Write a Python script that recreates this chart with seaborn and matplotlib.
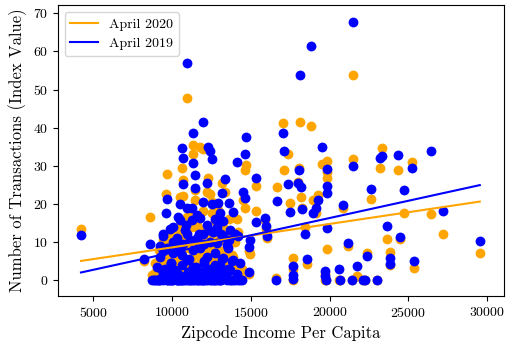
import numpy as np
import pandas as pd
import matplotlib
matplotlib.use("Agg")
import matplotlib.pyplot as plt
import seaborn as sns

# Per-capita income of each zipcode
income = [
    4217, 29530, 27170, 26420, 25240, 25370, 24730, 24310, 24460, 23820,
    23830, 23610, 23300, 23190, 22620, 22340, 22980, 22250, 22130, 21500,
    21450, 21710, 21180, 21390, 20860, 20590, 20650, 19805, 19805, 19850,
    19805, 19700, 19700, 19750, 19490, 19230, 19130, 18960, 18790, 18540,
    18430, 18220, 18150, 18000, 18130, 18070, 17690, 17690, 17700, 17480,
    17370, 17100, 17050, 16675, 16590, 16000, 15950, 15890, 15320, 15320,
    14940, 14900, 14850, 14670, 14600, 14500, 14600, 14100,
    # dense low-income block
    10940, 11940, 11345, 10600, 12300, 12400, 10670, 11345, 12510, 11450,
    10670, 12190, 11800, 11450, 13350, 13140, 9650, 11980, 10500, 10920,
    11240, 12510, 12930, 13630, 9610, 13880, 13040, 11240, 10500, 10080,
    9440, 10820, 11980, 12830, 13670, 13990, 8600, 10080, 11770, 12830,
    13460, 8210, 9230, 10080, 10920, 12190, 13250, 13880, 14300, 9020,
    9860, 11345, 12610, 13670, 8700,
    9230, 9440, 10290, 10500, 10710, 11130, 11560, 12000, 12400, 12610,
    13040, 13250, 10290, 11560, 12190, 9860, 9650,
    8860, 9020, 9230, 9440, 9650, 9860, 10080, 10290, 10500, 10710,
    10920, 11130, 11345, 11560, 11770, 11980, 12190, 12400, 12610, 12830,
    13040, 13670, 13880, 14300,
    8900, 9100, 9300, 9350, 9500, 9550, 9700, 9750, 9900, 9950,
    10000, 10150, 10200, 10350, 10400, 10450, 10600, 10650, 10800, 10850,
    11000, 11050, 11200, 11250, 11400, 11500, 11650, 11700, 11850, 11900,
    12050, 12100, 12250, 12300, 12450, 12500, 12700, 12750, 12900, 12950,
    13100, 13150, 13300, 13400, 13500, 13550, 13750, 13800, 14000, 14100,
    14200, 14450, 10400, 10900, 11700, 12700, 13200, 13600, 14200,
    9150, 9600, 9800, 10100, 10300, 10550, 10750, 11100, 11350, 11600,
    11950, 12350, 12650, 13000, 13450,
    9450, 9900, 10200, 10650, 10950, 11300, 11650, 12000, 12350, 12750,
    13100, 13550,
]

# Transaction index, April 2020
april_2020 = [
    13.5, 7.2, 12.1, 17.3, 31.1, 3.2, 17.7, 28.9, 10.8, 7.3,
    4.0, 10.8, 34.6, 29.3, 21.2, 7.0, 0.0, 0.0, 0.0, 53.7,
    31.7, 1.0, 8.9, 0.0, 18.9, 0.0, 0.0, 31.3, 28.3, 26.9,
    8.2, 1.5, 0.0, 0.0, 30.4, 22.3, 17.5, 21.0, 40.5, 4.2,
    14.0, 18.9, 21.9, 25.8, 41.6, 29.3, 5.7, 2.8, 0.0, 20.1,
    33.1, 28.9, 41.1, 24.3, 0.4, 10.9, 13.5, 15.7, 24.8, 18.0,
    6.8, 1.6, 7.5, 30.2, 28.9, 21.0, 19.0, 16.0,
    47.9, 34.5, 33.1, 29.3, 26.7, 22.5, 26.2, 35.4, 20.5, 21.0,
    22.0, 23.0, 35.0, 23.5, 23.2, 25.4, 27.8, 18.0, 21.9, 16.5,
    17.0, 17.5, 18.5, 16.0, 22.7, 16.5, 15.0, 14.0, 13.5, 12.5,
    10.5, 11.5, 10.5, 12.5, 11.5, 10.0, 16.6, 9.0, 7.0, 8.0,
    7.5, 5.0, 4.4, 6.0, 4.0, 5.0, 6.8, 6.0, 3.0, 2.5,
    1.5, 2.5, 2.0, 1.5, 1.3,
    8.0, 6.5, 9.5, 5.5, 8.5, 9.0, 7.5, 3.0, 8.5, 11.0,
    3.0, 10.5, 2.0, 14.5, 13.0, 12.0, 10.0,
    1.5, 2.5, 0.5, 3.0, 1.0, 2.0, 3.5, 0.5, 2.0, 4.0,
    1.0, 2.5, 3.0, 0.5, 1.5, 3.5, 1.0, 2.0, 3.0, 0.5,
    2.5, 1.5, 3.0, 1.0,
    4.5, 2.0, 3.5, 1.5, 2.5, 6.0, 1.5, 4.5, 2.0, 7.5,
    2.5, 4.5, 2.0, 3.0, 6.0, 2.0, 5.0, 1.5, 5.5, 2.5,
    1.5, 8.5, 3.0, 4.5, 1.5, 6.5, 3.0, 1.0, 5.5, 2.5,
    8.0, 1.5, 4.0, 2.0, 3.5, 6.0, 1.5, 5.5, 3.0, 2.0,
    4.0, 7.5, 2.0, 5.5, 1.5, 3.5, 2.0, 6.5, 2.5, 4.5,
    1.5, 3.0, 14.0, 12.0, 13.5, 15.5, 14.0, 9.5, 12.5,
    8.0, 10.5, 7.0, 11.5, 9.0, 6.5, 12.0, 8.5, 10.0, 7.5,
    11.0, 9.5, 8.0, 10.5, 7.0,
    9.0, 6.0, 12.0, 8.0, 10.5, 7.5, 11.0, 9.5, 12.5, 8.0,
    11.0, 9.0,
]

# Transaction index, April 2019
april_2019 = [
    11.7, 10.3, 18.1, 33.9, 29.3, 5.1, 23.6, 32.8, 11.4, 5.8,
    4.2, 14.2, 32.5, 31.9, 23.9, 6.4, 0.0, 0.0, 0.0, 67.8,
    29.9, 3.7, 9.6, 0.0, 19.8, 3.0, 0.0, 29.2, 24.8, 22.9,
    13.7, 2.4, 1.0, 0.0, 35.0, 21.0, 18.8, 17.5, 61.5, 5.5,
    12.0, 18.7, 24.5, 25.4, 53.8, 28.9, 3.7, 1.3, 0.2, 17.8,
    25.1, 33.9, 38.7, 20.8, 0.0, 11.5, 14.2, 16.2, 26.9, 15.3,
    10.5, 2.2, 8.7, 37.6, 33.2, 23.2, 21.4, 31.1,
    56.9, 41.6, 38.5, 34.6, 35.0, 33.9, 31.9, 30.6, 31.7, 27.6,
    25.1, 25.5, 16.2, 24.2, 26.5, 22.9, 21.2, 20.6, 19.9, 18.8,
    18.8, 19.9, 20.1, 20.1, 17.5, 17.8, 17.5, 15.7, 15.7, 14.0,
    12.2, 13.1, 12.2, 14.0, 13.1, 12.2, 9.4, 10.1, 8.3, 9.6,
    9.2, 5.4, 6.1, 7.0, 5.2, 6.1, 5.7, 5.2, 4.4, 3.5,
    2.6, 3.5, 3.1, 2.6, 0.0,
    9.0, 7.5, 11.0, 8.0, 9.5, 10.5, 11.0, 4.5, 10.0, 12.5,
    4.0, 11.5, 1.5, 17.0, 14.5, 13.5, 8.5,
    0.0, 0.0, 0.0, 0.0, 0.0, 0.0, 0.0, 0.0, 0.0, 0.0,
    0.0, 0.0, 0.0, 0.0, 0.0, 0.0, 0.0, 0.0, 0.0, 0.0,
    0.0, 0.0, 0.0, 0.0,
    0.0, 0.0, 0.5, 2.5, 1.0, 3.0, 0.0, 1.5, 0.0, 4.5,
    0.0, 1.0, 2.5, 0.0, 1.5, 0.0, 4.0, 0.0, 1.0, 0.0,
    2.0, 5.5, 0.0, 2.5, 0.0, 3.5, 1.0, 0.0, 2.0, 0.0,
    5.0, 0.0, 1.0, 3.0, 0.0, 1.5, 0.0, 4.0, 0.5, 2.5,
    0.0, 5.5, 0.5, 1.5, 0.0, 3.0, 0.0, 5.0, 0.0, 1.5,
    0.0, 0.0, 16.5, 14.5, 12.0, 16.0, 15.5, 10.5, 11.5,
    0.0, 0.5, 0.0, 1.0, 0.0, 0.0, 0.5, 0.0, 1.0, 0.0,
    0.0, 0.5, 0.0, 0.0, 0.5,
    11.5, 4.5, 9.5, 6.5, 12.0, 8.0, 10.0, 9.5, 13.0, 7.0,
    12.0, 8.5,
]

series_labels = ["April 2020", "April 2019"]
series_colors = ["orange", "blue"]
x_ticks = [5000, 10000, 15000, 20000, 25000, 30000]
y_ticks = [0, 10, 20, 30, 40, 50, 60, 70]

plt.rcParams["font.family"] = ["cmr10", "DejaVu Serif"]
plt.rcParams["axes.formatter.use_mathtext"] = True
plt.rcParams["mathtext.fontset"] = "cm"

df = pd.DataFrame({
    "income": income,
    "April 2020": april_2020,
    "April 2019": april_2019,
})

fig = plt.figure(figsize=(5.09, 3.45), dpi=100)
ax = fig.add_axes([0.1134, 0.142, 0.8766, 0.8426])

for label, color in zip(series_labels, series_colors):
    sns.scatterplot(data=df, x="income", y=label, color=color, s=50,
                    linewidth=0, ax=ax, legend=False, zorder=2)

for label, color in zip(series_labels, series_colors):
    sns.regplot(data=df, x="income", y=label, scatter=False, ci=None,
                color=color, ax=ax, label=label,
                line_kws={"linewidth": 1.5, "zorder": 3})

ax.set_xlim(2740, 31060)
ax.set_ylim(-4.2, 72.1)
ax.set_xticks(x_ticks)
ax.set_yticks(y_ticks)
ax.tick_params(labelsize=10)
ax.set_xlabel("Zipcode Income Per Capita", fontsize=12)
ax.set_ylabel("Number of Transactions (Index Value)", fontsize=12)
ax.legend(loc="upper left", fontsize=10)

fig.savefig("out.png", dpi=100)
